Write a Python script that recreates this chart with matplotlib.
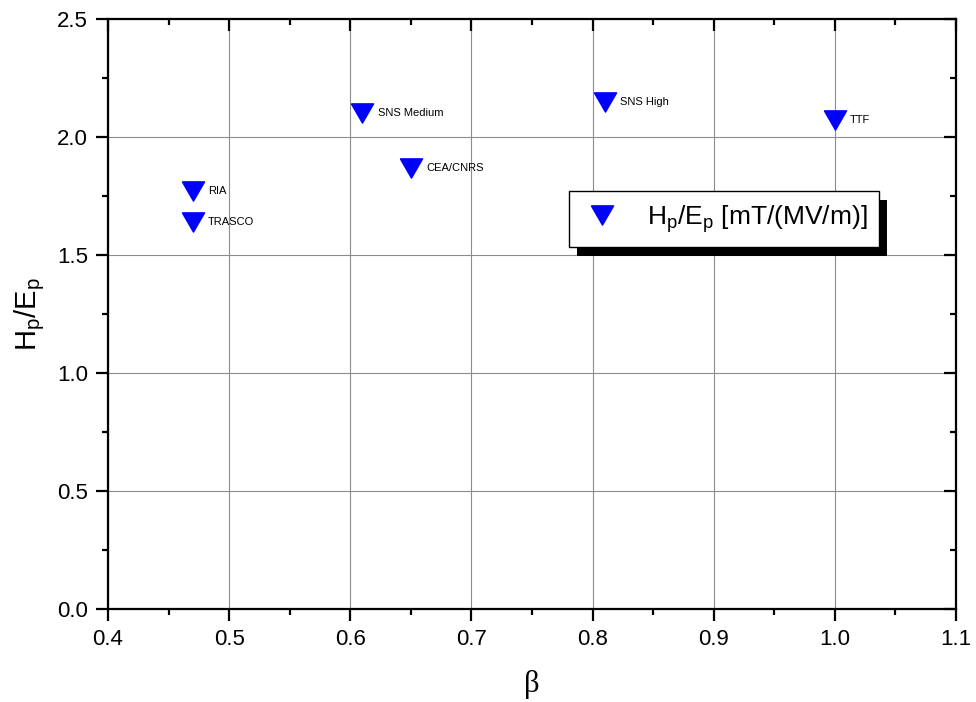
import matplotlib
matplotlib.use('Agg')
import matplotlib.pyplot as plt
from matplotlib.patches import Rectangle
from matplotlib.ticker import MultipleLocator, FormatStrFormatter

# cavity data
names = ['RIA', 'TRASCO', 'SNS Medium', 'CEA/CNRS', 'SNS High', 'TTF']
beta = [0.47, 0.47, 0.61, 0.65, 0.81, 1.00]
hp_ep = [1.77, 1.64, 2.10, 1.87, 2.15, 2.07]

plt.rcParams['font.family'] = ['Liberation Sans', 'DejaVu Sans']

# equilateral down-pointing triangle, centred on its bounding box
tri = [(-1, 0.866), (1, 0.866), (0, -0.866), (-1, 0.866)]

pos = [0.1107, 0.1325, 0.8688, 0.8404]
fig = plt.figure(figsize=(9.76, 7.02), dpi=100)
ax = fig.add_axes(pos)

ax.plot(beta, hp_ep, linestyle='none', marker=tri, markersize=16,
        color='#0000ff', label=r'H$_\mathregular{p}$/E$_\mathregular{p}$ [mT/(MV/m)]',
        zorder=3)
for n, x, y in zip(names, beta, hp_ep):
    ax.annotate(n, (x, y), xytext=(11, 0), textcoords='offset points',
                va='center', ha='left', fontsize=8)


def setup_ticks(a):
    a.set_xlim(0.4, 1.1)
    a.set_ylim(0.0, 2.5)
    a.xaxis.set_major_locator(MultipleLocator(0.1))
    a.xaxis.set_minor_locator(MultipleLocator(0.05))
    a.yaxis.set_major_locator(MultipleLocator(0.5))
    a.yaxis.set_minor_locator(MultipleLocator(0.25))


setup_ticks(ax)
ax.xaxis.set_major_formatter(FormatStrFormatter('%.1f'))
ax.yaxis.set_major_formatter(FormatStrFormatter('%.1f'))

ax.grid(True, which='major', color='0.55', linewidth=0.8, zorder=0)
ax.set_axisbelow(True)

for s in ax.spines.values():
    s.set_linewidth(1.6)
ax.tick_params(which='both', direction='out', width=1.6, labelsize=16,
               top=False, right=False, pad=6)
ax.tick_params(which='major', length=8.5)
ax.tick_params(which='minor', length=4.5)

# overlay axes carrying the inward ticks on top and right
ov = fig.add_axes(pos, frameon=False)
setup_ticks(ov)
ov.tick_params(which='both', direction='in', width=1.6,
               bottom=False, left=False, top=True, right=True,
               labelbottom=False, labelleft=False)
ov.tick_params(which='major', length=8.5)
ov.tick_params(which='minor', length=4.5)

ax.set_xlabel('β', fontsize=22, fontfamily='Liberation Serif', labelpad=14)
ax.set_ylabel(r'H$_\mathregular{p}$/E$_\mathregular{p}$', fontsize=21, labelpad=7)

leg = ax.legend(loc='upper left', bbox_to_anchor=(0.5436, 0.7085),
                borderaxespad=0, fontsize=19, fancybox=False, framealpha=1,
                edgecolor='black', handletextpad=0.9, borderpad=0.45,
                handlelength=1.6, markerscale=1.0)
leg.get_frame().set_linewidth(1.0)
leg.set_zorder(6)

# Origin-style solid black drop shadow under the legend
fig.canvas.draw()
bb = leg.get_window_extent()
inv = ax.transAxes.inverted()
(x0, y0), (x1, y1) = inv.transform([(bb.x0 + 8, bb.y0 - 9), (bb.x1 + 8, bb.y1 - 9)])
ax.add_patch(Rectangle((x0, y0), x1 - x0, y1 - y0, transform=ax.transAxes,
                       facecolor='black', edgecolor='none', zorder=5))

fig.savefig('out.png', dpi=100)
